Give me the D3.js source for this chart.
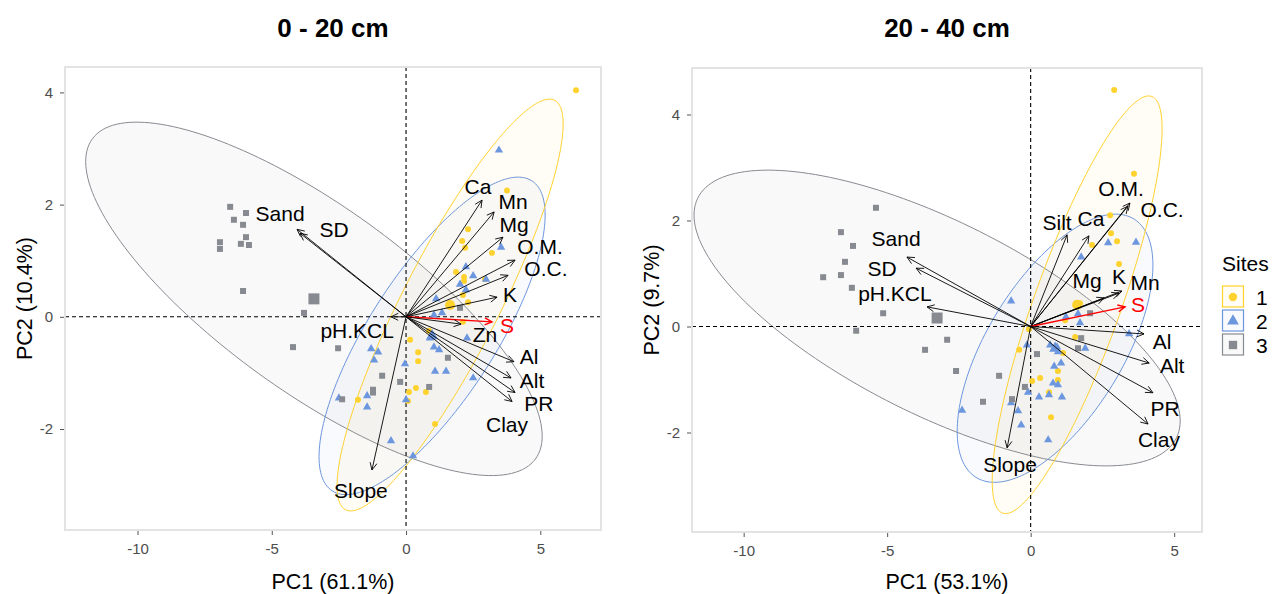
<!DOCTYPE html>
<html>
<head>
<meta charset="utf-8">
<script src="https://cdn.jsdelivr.net/npm/d3@7"></script>
<style>
  body { margin: 0; background: #fff; }
  text { font-family: "Liberation Sans", Arial, sans-serif; }
</style>
</head>
<body>
<svg id="chart" width="1273" height="594"></svg>
<script>
// ---- data ----
const siteNames = ['1', '2', '3'];
const siteColors = ['#FFD22E', '#6C96DE', '#878B91'];
const xTicks = [-10, -5, 0, 5];
const yTicks = [-2, 0, 2, 4];

// 0 - 20 cm
const d1Site1 = [[6.33,4.04],[3.76,2.25],[2.31,1.56],[2.09,1.35],[2.20,1.23],[3.20,1.14],[1.86,0.80],
  [2.16,0.71],[2.16,0.64],[2.94,0.67],[2.12,0.39],[2.31,0.26],[0.86,-0.25],[0.15,-0.41],[0.45,-0.63],
  [0.45,-0.79],[0.11,-1.34],[0.37,-1.27],[0.74,-1.34],[0.07,-1.50],[-1.79,-1.48],[1.08,-1.91],[2.12,-0.09]];
const d1Site2 = [[3.46,2.97],[3.54,1.24],[2.23,0.89],[2.50,0.73],[2.98,0.67],[2.01,0.58],[2.23,0.48],
  [1.12,0.32],[1.34,0.07],[1.04,0.03],[0.89,-0.38],[1.04,-0.54],[1.23,-0.59],[2.27,-0.38],[-1.30,-0.57],
  [-1.04,-0.63],[-1.19,-0.77],[-0.04,-0.84],[1.08,-0.97],[1.49,-0.97],[2.50,-1.09],[-2.50,-1.45],
  [-1.45,-1.41],[-1.45,-1.61],[0.00,-1.48],[-0.56,-2.21],[0.26,-2.48]];
const d1Site3 = [[-6.55,1.96],[-5.96,1.85],[-6.41,1.73],[-6.07,1.64],[-5.96,1.42],[-6.93,1.33],[-6.93,1.21],
  [-6.15,1.30],[-5.85,1.28],[-6.07,0.46],[-3.80,0.07],[-4.21,-0.54],[-2.53,-0.56],[2.01,0.16],[1.56,-0.73],
  [-0.89,-1.05],[-0.22,-1.16],[0.86,-1.25],[-1.23,-1.30],[-1.23,-1.35],[-2.38,-1.47]];
const d1Centroids = [[1.64,0.21],[0.97,-0.34],[-3.43,0.32]];
const d1Spread = [[4.21,3.67,0.879],[4.21,2.83,0.761],[8.50,3.15,-0.777]]; // x half-range, y half-range, correlation
const d1Vars = ['Ca','Mn','Mg','O.M.','O.C.','K','S','Zn','Al','Alt','PR','Clay','Slope','pH.KCL','Sand','SD'];
const d1Loadings = [[2.83,2.08],[3.28,1.87],[3.61,1.42],[4.06,1.01],[3.80,0.74],[3.39,0.35],[3.20,-0.09],
  [2.05,-0.13],[4.02,-0.80],[3.91,-1.09],[4.06,-1.35],[3.95,-1.51],[-1.27,-2.73],[-0.56,0.00],[-4.06,1.56],[-3.95,1.49]];
const d1LabelAt = [[2.68,2.33],[3.99,2.06],[4.02,1.65],[4.99,1.26],[5.21,0.87],[3.87,0.39],[3.76,-0.16],
  [2.94,-0.32],[4.58,-0.71],[4.69,-1.14],[4.95,-1.55],[3.76,-1.91],[-1.68,-3.10],[-1.82,-0.25],[-4.69,1.85],[-2.68,1.55]];

// 20 - 40 cm
const d2Site1 = [[2.91,4.46],[3.60,2.88],[2.77,2.10],[2.80,1.76],[3.01,1.61],[2.14,1.54],[3.08,1.18],
  [1.20,0.12],[1.55,-0.20],[-0.40,-0.44],[-0.06,-0.05],[1.13,-0.50],[0.95,-0.84],[0.95,-1.01],[0.05,-1.03],
  [0.33,-0.97],[0.64,-1.24],[0.71,-1.71],[1.72,0.44]];
const d2Site2 = [[2.70,1.58],[3.67,1.59],[1.76,1.31],[-0.68,0.48],[1.23,0.18],[1.65,0.24],[1.72,0.07],
  [3.43,-0.14],[0.68,-0.35],[0.92,-0.39],[0.95,-0.48],[1.90,-0.41],[-0.13,-0.35],[1.06,-0.69],[0.82,-0.75],
  [0.78,-1.07],[0.95,-1.10],[0.29,-1.33],[0.64,-1.29],[1.09,-1.33],[-0.68,-1.44],[-0.44,-1.59],[-0.33,-1.86],
  [-2.39,-1.58],[0.61,-2.14],[-0.09,-1.24]];
const d2Site3 = [[-5.39,2.24],[-6.61,1.78],[-6.19,1.52],[-6.47,1.22],[-7.23,0.93],[-6.61,0.97],[-6.23,0.73],
  [-5.14,0.25],[-6.08,-0.08],[-2.91,-0.25],[-3.68,-0.44],[-2.60,-0.84],[-1.10,-0.93],[-1.66,-1.42],
  [-0.20,-1.14],[-0.65,-1.37],[0.22,-0.52],[1.76,-0.22],[1.65,-0.41],[2.07,0.25]];
const d2Centroids = [[1.62,0.41],[0.85,-0.41],[-3.26,0.16]];
const d2Spread = [[2.96,3.94,0.842],[3.41,2.53,0.619],[8.47,2.79,-0.696]];
const d2Vars = ['Silt','Ca','O.M.','O.C.','Mg','K','Mn','S','Al','Alt','PR','Clay','Slope','Sand','SD','pH.KCL'];
const d2Loadings = [[1.27,1.73],[2.03,1.71],[3.46,2.33],[3.39,2.27],[2.56,0.54],[3.08,0.63],[3.18,0.67],
  [3.29,0.37],[3.95,-0.14],[4.13,-0.69],[4.26,-1.25],[4.09,-1.84],[-0.82,-2.29],[-4.31,1.31],[-3.99,1.10],[-3.61,0.37]];
const d2LabelAt = [[0.92,1.97],[2.10,2.03],[3.15,2.61],[4.58,2.20],[1.97,0.86],[3.08,0.95],[3.99,0.84],
  [3.74,0.41],[4.58,-0.29],[4.93,-0.73],[4.68,-1.54],[4.47,-2.14],[-0.72,-2.61],[-4.69,1.67],[-5.18,1.10],[-4.73,0.63]];

const highlightVar = 'S';

// ---- layout ----
const panels = [
  { title: '0 - 20 cm', xLab: 'PC1 (61.1%)', yLab: 'PC2 (10.4%)',
    box: { l: 65, t: 67, r: 601, b: 530 }, xDomain: [-12.70, 7.26], yDomain: [-3.80, 4.453],
    sites: [d1Site1, d1Site2, d1Site3], centroids: d1Centroids, spread: d1Spread,
    vars: d1Vars, loadings: d1Loadings, labelAt: d1LabelAt },
  { title: '20 - 40 cm', xLab: 'PC1 (53.1%)', yLab: 'PC2 (9.7%)',
    box: { l: 692, t: 68, r: 1202, b: 532 }, xDomain: [-11.80, 5.97], yDomain: [-3.877, 4.877],
    sites: [d2Site1, d2Site2, d2Site3], centroids: d2Centroids, spread: d2Spread,
    vars: d2Vars, loadings: d2Loadings, labelAt: d2LabelAt }
];

const symbols = [d3.symbolCircle, d3.symbolTriangle, d3.symbolSquare];
const pointSize = [28, 30, 36];
const centroidSize = [80, 60, 121];

const svg = d3.select('#chart');

panels.forEach(p => {
  const b = p.box;
  const x = d3.scaleLinear().domain(p.xDomain).range([b.l, b.r]);
  const y = d3.scaleLinear().domain(p.yDomain).range([b.b, b.t]);
  const g = svg.append('g');

  // clip
  const clipId = 'clip' + b.l;
  svg.append('clipPath').attr('id', clipId)
    .append('rect').attr('x', b.l).attr('y', b.t).attr('width', b.r - b.l).attr('height', b.b - b.t);
  const plot = g.append('g').attr('clip-path', `url(#${clipId})`);

  // ellipses
  const line = d3.line().curve(d3.curveLinearClosed);
  const ts = d3.range(0, 2 * Math.PI, Math.PI / 90);
  [2, 1, 0].forEach(i => {
    const [cx, cy] = p.centroids[i];
    const [hx, hy, rho] = p.spread[i];
    const s = Math.sqrt(1 - rho * rho);
    const pts = ts.map(t => [x(cx + hx * Math.cos(t)), y(cy + hy * (rho * Math.cos(t) + s * Math.sin(t)))]);
    plot.append('path')
      .attr('d', line(pts))
      .attr('fill', siteColors[i])
      .attr('fill-opacity', i === 2 ? 0.05 : 0.045)
      .attr('stroke', siteColors[i])
      .attr('stroke-width', 1);
  });

  // reference lines
  plot.append('line')
    .attr('x1', x(0)).attr('x2', x(0)).attr('y1', b.t).attr('y2', b.b)
    .attr('stroke', '#000').attr('stroke-width', 1.1).attr('stroke-dasharray', '4,3');
  plot.append('line')
    .attr('x1', b.l).attr('x2', b.r).attr('y1', y(0)).attr('y2', y(0))
    .attr('stroke', '#000').attr('stroke-width', 1.1).attr('stroke-dasharray', '4,3');

  // individuals
  p.sites.forEach((pts, i) => {
    plot.selectAll(null)
      .data(pts)
      .enter()
      .append('path')
      .attr('d', d3.symbol().type(symbols[i]).size(pointSize[i]))
      .attr('transform', d => `translate(${x(d[0])},${y(d[1])})`)
      .attr('fill', siteColors[i]);
  });
  p.centroids.forEach((d, i) => {
    plot.append('path')
      .attr('d', d3.symbol().type(symbols[i]).size(centroidSize[i]))
      .attr('transform', `translate(${x(d[0])},${y(d[1])})`)
      .attr('fill', siteColors[i]);
  });

  // variable arrows
  const x0 = x(0), y0 = y(0);
  p.vars.forEach((v, i) => {
    const col = v === highlightVar ? '#FF0000' : '#000';
    const x1 = x(p.loadings[i][0]), y1 = y(p.loadings[i][1]);
    const a = Math.atan2(y1 - y0, x1 - x0);
    const len = 8, spread = 0.45;
    plot.append('line')
      .attr('x1', x0).attr('y1', y0).attr('x2', x1).attr('y2', y1)
      .attr('stroke', col).attr('stroke-width', v === highlightVar ? 1.4 : 0.9);
    plot.append('path')
      .attr('d', `M${x1 - len * Math.cos(a - spread)},${y1 - len * Math.sin(a - spread)}L${x1},${y1}L${x1 - len * Math.cos(a + spread)},${y1 - len * Math.sin(a + spread)}`)
      .attr('fill', 'none').attr('stroke', col).attr('stroke-width', v === highlightVar ? 1.4 : 0.9);
  });
  p.vars.forEach((v, i) => {
    plot.append('text')
      .attr('x', x(p.labelAt[i][0]))
      .attr('y', y(p.labelAt[i][1]))
      .attr('dy', '0.36em')
      .attr('text-anchor', 'middle')
      .attr('font-size', 21)
      .attr('fill', v === highlightVar ? '#FF0000' : '#000')
      .text(v);
  });

  // panel border
  g.append('rect')
    .attr('x', b.l).attr('y', b.t).attr('width', b.r - b.l).attr('height', b.b - b.t)
    .attr('fill', 'none').attr('stroke', '#e3e3e3').attr('stroke-width', 2);

  // axes
  const xAxis = g.append('g').attr('transform', `translate(0,${b.b + 1})`)
    .call(d3.axisBottom(x).tickValues(xTicks).tickFormat(d => String(d)).tickSize(4).tickPadding(8));
  const yAxis = g.append('g').attr('transform', `translate(${b.l - 1},0)`)
    .call(d3.axisLeft(y).tickValues(yTicks).tickFormat(d => String(d)).tickSize(4).tickPadding(7));
  [xAxis, yAxis].forEach(ax => {
    ax.select('.domain').remove();
    ax.selectAll('.tick line').attr('stroke', '#555');
    ax.selectAll('.tick text').attr('fill', '#4d4d4d').attr('font-size', 15)
      .attr('font-family', '"Liberation Sans", Arial, sans-serif');
  });

  // titles
  g.append('text')
    .attr('x', (b.l + b.r) / 2).attr('y', 37)
    .attr('text-anchor', 'middle').attr('font-size', 26).attr('font-weight', 'bold')
    .text(p.title);
  g.append('text')
    .attr('x', (b.l + b.r) / 2).attr('y', 589)
    .attr('text-anchor', 'middle').attr('font-size', 21.5)
    .text(p.xLab);
  g.append('text')
    .attr('transform', `translate(${b.l - 33},${(b.t + b.b) / 2}) rotate(-90)`)
    .attr('text-anchor', 'middle').attr('font-size', 21.5)
    .text(p.yLab);
});

// legend
const legend = svg.append('g').attr('transform', 'translate(1222,0)');
legend.append('text').attr('x', 0).attr('y', 271).attr('font-size', 21).text('Sites');
siteNames.forEach((s, i) => {
  const top = 286 + i * 24;
  legend.append('rect')
    .attr('x', 0.5).attr('y', top).attr('width', 21).attr('height', 21)
    .attr('fill', siteColors[i]).attr('fill-opacity', 0.05)
    .attr('stroke', siteColors[i]).attr('stroke-width', 1.2);
  legend.append('path')
    .attr('d', d3.symbol().type(symbols[i]).size([55, 60, 70][i]))
    .attr('transform', `translate(11,${top + 11})`)
    .attr('fill', siteColors[i]);
  legend.append('text')
    .attr('x', 34).attr('y', top + 11).attr('dy', '0.36em')
    .attr('font-size', 21).text(s);
});
</script>
</body>
</html>
